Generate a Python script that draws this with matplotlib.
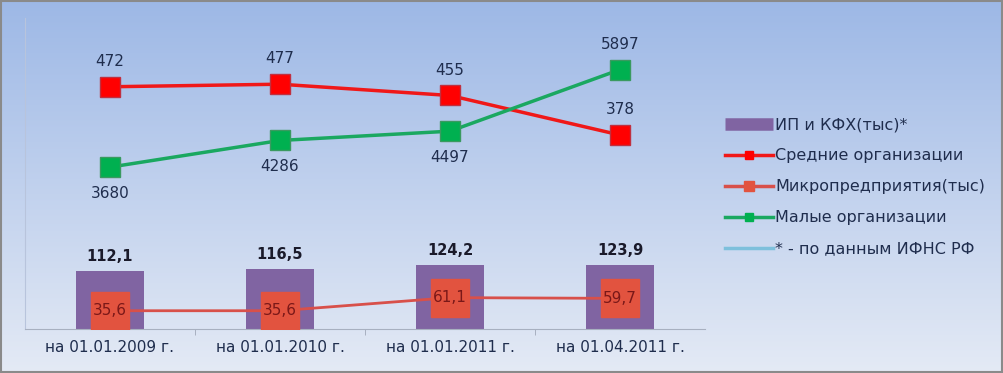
import numpy as np
import matplotlib
matplotlib.use("Agg")
import matplotlib.pyplot as plt
from matplotlib.lines import Line2D

categories = ["на 01.01.2009 г.", "на 01.01.2010 г.", "на 01.01.2011 г.", "на 01.04.2011 г."]
ip_kfh = [112.1, 116.5, 124.2, 123.9]
medium = [472, 477, 455, 378]
micro = [35.6, 35.6, 61.1, 59.7]
small = [3680, 4286, 4497, 5897]

label_ip = "ИП и КФХ(тыс)*"
label_medium = "Средние организации"
label_micro = "Микропредприятия(тыс)"
label_small = "Малые организации"
label_note = "* - по данным ИФНС РФ"

plt.rcParams['font.family'] = ['DejaVu Sans']

W, H = 1004, 373
fig = plt.figure(figsize=(W / 100, H / 100), dpi=100)

# gradient background
bg = fig.add_axes([0, 0, 1, 1], zorder=-10)
top = np.array([0x9d, 0xb8, 0xe6]) / 255
bot = np.array([0xe4, 0xea, 0xf5]) / 255
t = np.linspace(0, 1, 256)[:, None]
grad = top[None, :] * (1 - t) + bot[None, :] * t
img = np.repeat(grad[:, None, :], 2, axis=1)
bg.imshow(img, aspect='auto', extent=[0, 1, 0, 1], origin='upper')
bg.set_axis_off()
bg.add_patch(plt.Rectangle((0.001, 0.002), 0.997, 0.994, fill=False, ec='#8a8a8a', lw=1.5,
                           transform=bg.transAxes))

ax = fig.add_axes([25 / W, 44 / H, 680 / W, 311 / H])
ax.patch.set_alpha(0)
x = np.arange(len(categories))

ax.bar(x, ip_kfh, width=0.4, color='#8064a2', zorder=2)
for xi, v in zip(x, ip_kfh):
    ax.text(xi, v + 14, f"{v:.1f}".replace('.', ','), ha='center', va='bottom',
            fontsize=10.5, fontweight='bold', color='#1a1a2a', zorder=6)

ax.plot(x, medium, color='#f01818', lw=2.5, marker='s', ms=14, mfc='#ff0000',
        mec='#c03040', mew=1, zorder=4)
for xi, v in zip(x, medium):
    ax.text(xi, v + 35, str(v), ha='center', va='bottom', fontsize=11, color='#1f2d4d', zorder=6)

ax.plot(x, micro, color='#d8504a', lw=2, marker='s', ms=28, mfc='#e2533f',
        mec='#e2533f', zorder=3)
for xi, v in zip(x, micro):
    ax.text(xi, v, f"{v:.1f}".replace('.', ','), ha='center', va='center', fontsize=11,
            color='#7a1818', zorder=6)

ax.set_xlim(-0.5, 3.5)
ax.set_ylim(0, 606)
ax.set_yticks([])
ax.set_xticks(x)
ax.set_xticklabels(categories, fontsize=11, color='#1f2d4d')
ax.tick_params(axis='x', length=0, pad=8)
ax.set_xticks([0.5, 1.5, 2.5], minor=True)
ax.tick_params(axis='x', which='minor', length=4, color='#a0a8b8')
for s in ['top', 'right']:
    ax.spines[s].set_visible(False)
ax.spines['bottom'].set_color('#a8b0c0')
ax.spines['left'].set_color('#b8c4dc')

ax2 = ax.twinx()
ax2.set_ylim(0, 7070)
ax2.plot(x, small, color='#1aa860', lw=2.5, marker='s', ms=14, mfc='#00b050',
         mec='#3a9a60', mew=1, zorder=4)
for i, (xi, v) in enumerate(zip(x, small)):
    if i == len(small) - 1:
        ax2.text(xi, v + 400, str(v), ha='center', va='bottom', fontsize=11, color='#1f2d4d')
    else:
        ax2.text(xi, v - 430, str(v), ha='center', va='top', fontsize=11, color='#1f2d4d')
ax2.set_yticks([])
for s in ax2.spines.values():
    s.set_visible(False)

handles = [
    Line2D([], [], color='#8064a2', lw=9, solid_capstyle='butt'),
    Line2D([], [], color='#f01818', lw=2.5, marker='s', ms=6, mfc='#ff0000', mec='#ff0000'),
    Line2D([], [], color='#d8504a', lw=2.5, marker='s', ms=7, mfc='#e2533f', mec='#e2533f'),
    Line2D([], [], color='#1aa860', lw=2.5, marker='s', ms=6, mfc='#00b050', mec='#00b050'),
    Line2D([], [], color='#7ec0dc', lw=2.5),
]
labels = [label_ip, label_medium, label_micro, label_small, label_note]
fig.legend(handles, labels, loc='upper left', bbox_to_anchor=(711 / W, 1 - 103 / H),
           frameon=False, fontsize=11.5, handlelength=3.0, handletextpad=0.1,
           labelspacing=1.0, labelcolor='#1f2d4d')

fig.savefig("out.png", dpi=100)
